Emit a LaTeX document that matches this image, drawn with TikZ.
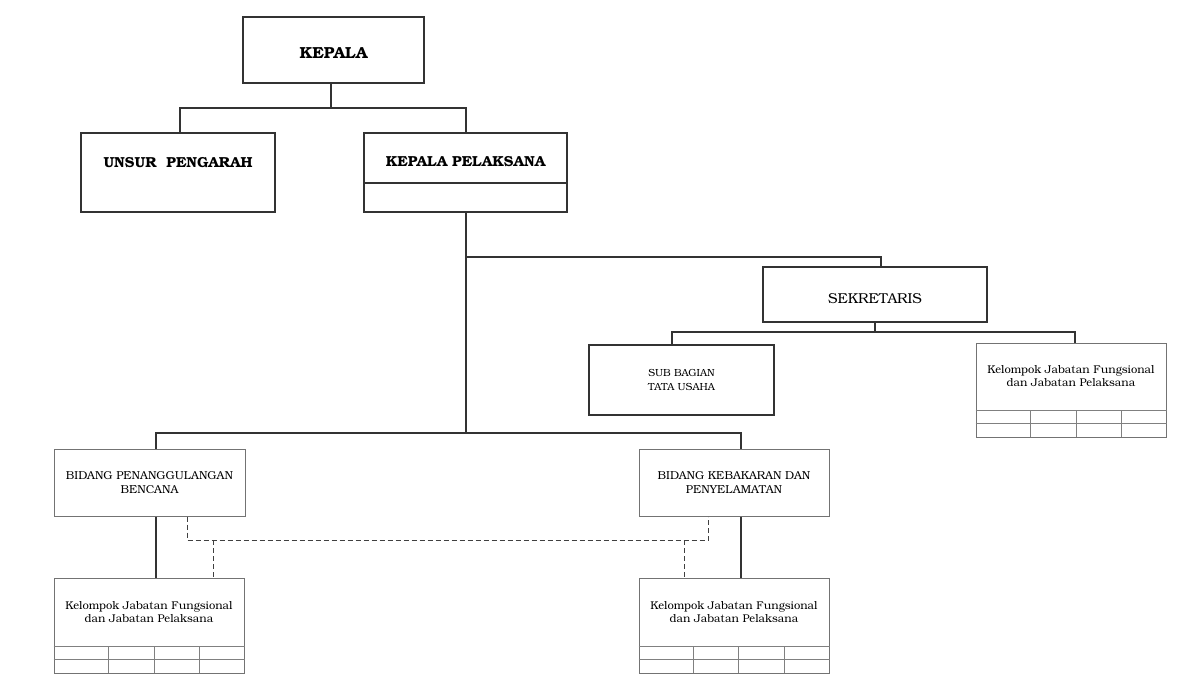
\documentclass[tikz,border=0pt]{standalone}
\usepackage{fontspec}
\setmainfont{TeX Gyre Bonum}
\begin{document}
\begin{tikzpicture}[x=1pt,y=-1pt,
  box/.style={draw=black!80, line width=1.3pt, rectangle, inner sep=0pt},
  gbox/.style={draw=black!55, line width=1pt, rectangle, inner sep=0pt},
  ln/.style={draw=black!80, line width=1.3pt},
  tln/.style={draw=black!50, line width=0.9pt},
  dln/.style={draw=black!75, line width=1pt, dash pattern=on 5pt off 3pt},
  btitle/.style={font=\bfseries\fontsize{14.5}{16}\selectfont, inner sep=0pt},
  rtitle/.style={font=\fontsize{14.3}{16}\selectfont, inner sep=0pt},
  stitle/.style={font=\fontsize{10.3}{14.5}\selectfont, inner sep=0pt, align=center},
  bdtitle/.style={font=\fontsize{11.5}{13.5}\selectfont, inner sep=0pt, align=center},
  ktitle/.style={font=\fontsize{11.2}{13.5}\selectfont, inner sep=0pt, align=center}
]
\useasboundingbox (0,0) rectangle (1180,691);
\fill[white] (0,0) rectangle (1180,691);

% boxes
\node[box, minimum width=181pt, minimum height=66pt] (kepala) at (333.5,50) {};
\node[btitle, font=\bfseries\fontsize{16}{18}\selectfont] (kepalaT) at ([yshift=-3pt]kepala.center) {KEPALA};

\node[box, minimum width=194pt, minimum height=79pt] (unsur) at (178,172.5) {};
\node[btitle] (unsurT) at (178,163) {UNSUR\ \ PENGARAH};

\node[box, minimum width=203pt, minimum height=79pt] (pel) at (465.5,172.5) {};
\draw[ln] (pel.west |- 0,183) coordinate (pdL) -- (pel.east |- 0,183) coordinate (pdR);
\node[btitle] (pelT) at (465.5,162) {KEPALA PELAKSANA};

\node[box, minimum width=224pt, minimum height=55pt] (sek) at (875,294.5) {};
\node[rtitle] (sekT) at (875,299) {SEKRETARIS};

\node[box, minimum width=185pt, minimum height=70pt] (sub) at (681.5,380) {};
\node[stitle] (subT) at (681.5,380) {SUB BAGIAN\\TATA USAHA};

\node[gbox, minimum width=190pt, minimum height=94pt] (kelR) at (1071,390) {};
\node[ktitle] (kelRT) at (1071,376) {Kelompok Jabatan Fungsional\\dan Jabatan Pelaksana};
\draw[tln] (kelR.west |- 0,410) -- (kelR.east |- 0,410);
\draw[tln] (kelR.west |- 0,423) -- (kelR.east |- 0,423);
\foreach \cx in {1030,1076,1121} \draw[tln] (\cx,410) -- (\cx,437);

\node[gbox, minimum width=191pt, minimum height=67pt] (bidL) at (149.5,482.5) {};
\node[bdtitle] (bidLT) at (149.5,482.5) {BIDANG PENANGGULANGAN\\BENCANA};

\node[gbox, minimum width=190pt, minimum height=67pt] (bidR) at (734,482.5) {};
\node[bdtitle] (bidRT) at (734,482.5) {BIDANG KEBAKARAN DAN\\PENYELAMATAN};

\node[gbox, minimum width=190pt, minimum height=95pt] (kelL) at (149,625.5) {};
\node[ktitle] (kelLT) at (149,612) {Kelompok Jabatan Fungsional\\dan Jabatan Pelaksana};
\draw[tln] (kelL.west |- 0,646) -- (kelL.east |- 0,646);
\draw[tln] (kelL.west |- 0,659) -- (kelL.east |- 0,659);
\foreach \cx in {108,154,199} \draw[tln] (\cx,646) -- (\cx,673);

\node[gbox, minimum width=190pt, minimum height=95pt] (kelM) at (734,625.5) {};
\node[ktitle] (kelMT) at (734,612) {Kelompok Jabatan Fungsional\\dan Jabatan Pelaksana};
\draw[tln] (kelM.west |- 0,646) -- (kelM.east |- 0,646);
\draw[tln] (kelM.west |- 0,659) -- (kelM.east |- 0,659);
\foreach \cx in {693,738,784} \draw[tln] (\cx,646) -- (\cx,673);

% connectors
\coordinate (j1) at (331,108);
\draw[ln] ([xshift=-2.5pt]kepala.south) -- (j1);
\draw[ln] ([xshift=2pt]unsur.north) -- ([xshift=2pt]unsur.north |- j1) -- ([xshift=0.5pt]pel.north |- j1) -- ([xshift=0.5pt]pel.north);

\coordinate (j2) at (466,257);
\coordinate (j3) at (466,433);
\draw[ln] ([xshift=0.5pt]pel.south) -- (j3);
\draw[ln] (j2) -| ([xshift=6pt]sek.north);

\coordinate (j4) at (875,332);
\draw[ln] (sek.south) -- (j4);
\draw[ln] ([xshift=-9.5pt]sub.north) |- (j4) -| ([xshift=4pt]kelR.north);

\draw[ln] ([xshift=6.5pt]bidL.north) |- (j3) -| ([xshift=7pt]bidR.north);

\draw[ln] ([xshift=6.5pt]bidL.south) -- ([xshift=6.5pt]bidL.south |- kelL.north);
\draw[ln] ([xshift=7pt]bidR.south) -- ([xshift=7pt]bidR.south |- kelM.north);

% dashed coordination lines
\coordinate (dL) at (187,540);
\coordinate (dR) at (708,540);
\draw[dln] (bidL.south -| dL) -- (dL) -- (dR) -- (bidR.south -| dR);
\draw[dln] (213,540) -- (kelL.north -| 213,0);
\draw[dln] (684,540) -- (kelM.north -| 684,0);
\end{tikzpicture}
\end{document}
